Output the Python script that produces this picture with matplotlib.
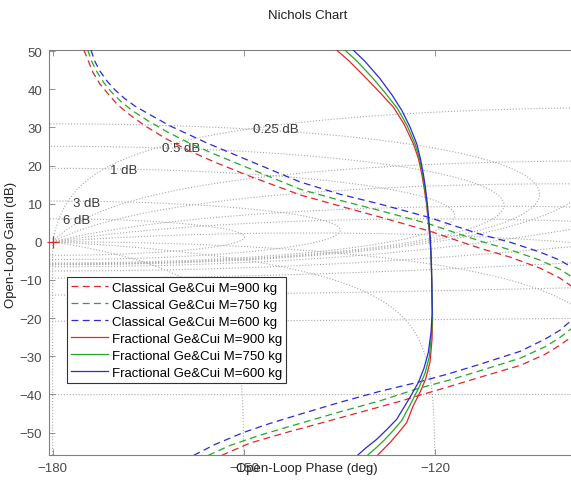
import numpy as np
import matplotlib.pyplot as plt

plt.rcParams['font.family'] = ['Liberation Sans', 'DejaVu Sans']

# ---------------- DATA (open-loop phase in deg, gain in dB) ----------------
# Classical Ge&Cui, upper branch
cl900_up_ph = [-175.1, -174.4, -173.7, -172.6, -171.3, -169.8, -167.9, -165.5, -162.4, -158.9, -154.6,
               -149.1, -141.2, -135.0, -128.7, -120.9, -113.0, -108.3, -103.6, -100.5, -98.7]
cl900_up_db = [50.3, 47.4, 44.5, 41.4, 38.8, 35.9, 33.3, 30.4, 27.2, 24.1, 20.9,
               17.2, 12.3, 9.4, 6.5, 2.8, -1.7, -4.0, -6.9, -9.5, -11.6]
cl750_up_ph = [-174.5, -173.9, -173.1, -172.0, -170.8, -169.3, -167.5, -165.1, -162.0, -158.7, -155.2,
               -149.1, -141.2, -135.0, -128.7, -121.0, -113.0, -108.3, -103.6, -100.5, -98.7]
cl750_up_db = [50.3, 47.4, 44.7, 41.8, 39.3, 36.8, 34.4, 31.8, 28.8, 26.0, 23.4,
               19.2, 13.8, 10.9, 8.2, 4.7, 0.2, -2.1, -4.8, -7.2, -9.1]
cl600_up_ph = [-174.0, -173.4, -172.6, -171.5, -170.2, -168.8, -167.1, -164.7, -161.6, -158.5, -155.8,
               -149.1, -141.2, -135.0, -128.7, -121.2, -113.0, -108.3, -103.6, -100.5, -98.7]
cl600_up_db = [50.3, 47.4, 44.8, 42.2, 39.8, 37.7, 35.6, 33.3, 30.4, 28.0, 25.9,
               21.2, 15.7, 12.5, 9.9, 6.5, 2.0, -0.1, -2.7, -4.8, -6.6]

# Classical Ge&Cui, lower branch (comes back in after wrapping)
cl900_lo_ph = [-153.5, -149.1, -143.8, -138.1, -131.8, -125.5, -122.4, -117.7, -113.0, -106.7, -102.8, -100.5, -98.7]
cl900_lo_db = [-56.0, -52.8, -50.2, -47.6, -44.7, -41.8, -40.2, -37.9, -35.5, -32.4, -29.5, -27.1, -25.0]
cl750_lo_ph = [-155.6, -152.2, -147.5, -141.2, -135.0, -128.7, -122.6, -117.7, -113.0, -106.7, -102.8, -100.5, -98.7]
cl750_lo_db = [-56.0, -53.4, -50.7, -47.6, -44.6, -41.7, -38.4, -36.2, -33.8, -30.5, -27.5, -25.1, -22.8]
cl600_lo_ph = [-157.9, -154.5, -150.1, -145.9, -141.2, -135.0, -128.7, -122.7, -117.7, -113.0, -106.7, -102.8, -100.5, -98.7]
cl600_lo_db = [-56.0, -53.1, -50.0, -47.6, -45.2, -42.1, -39.2, -36.8, -34.5, -32.1, -28.7, -25.5, -23.2, -20.6]

# Fractional Ge&Cui
fr900_ph = [-135.74, -133.54, -131.30, -129.0, -126.60, -124.92, -123.46, -122.65, -122.15, -121.79, -121.39,
            -121.11, -120.85, -120.66, -120.58, -120.45, -120.53, -120.85, -121.55, -122.41, -123.51, -124.50,
            -125.86, -127.12, -129.20]
fr900_db = [50.66, 47.43, 43.67, 39.69, 35.35, 30.89, 25.72, 21.71, 17.85, 14.36, 9.90,
            5.09, 0.71, -4.54, -9.79, -20.29, -25.54, -31.57, -36.04, -39.45, -43.12, -47.40,
            -50.21, -52.65, -56.17]
fr750_ph = [-134.44, -132.29, -129.98, -127.90, -125.94, -124.45, -123.20, -122.49, -122.02, -121.68, -121.33,
            -121.05, -120.82, -120.66, -120.58, -120.47, -120.61, -120.97, -121.63, -122.57, -123.75, -125.31,
            -126.80, -128.13, -129.47, -130.80]
fr750_db = [50.66, 47.38, 43.23, 39.11, 34.91, 30.50, 25.72, 21.71, 17.85, 14.36, 9.90,
            5.09, 0.71, -4.54, -9.79, -19.24, -24.49, -30.26, -34.46, -38.14, -42.07, -46.93,
            -49.82, -52.18, -54.28, -56.17]
fr600_ph = [-133.12, -131.03, -128.68, -126.80, -125.28, -123.98, -122.93, -122.34, -121.90, -121.58, -121.27,
            -121.0, -120.80, -120.66, -120.58, -120.50, -120.69, -121.11, -121.79, -122.68, -123.98, -126.07,
            -127.74, -129.20, -130.88, -132.34]
fr600_db = [50.66, 47.30, 42.78, 38.50, 34.49, 30.10, 25.72, 21.71, 17.85, 14.36, 9.90,
            5.09, 0.71, -4.54, -9.79, -18.45, -23.70, -28.95, -33.15, -36.90, -40.76, -46.54,
            -49.42, -51.78, -54.02, -56.17]

labels = ['Classical Ge&Cui M=900 kg', 'Classical Ge&Cui M=750 kg', 'Classical Ge&Cui M=600 kg',
          'Fractional Ge&Cui M=900 kg', 'Fractional Ge&Cui M=750 kg', 'Fractional Ge&Cui M=600 kg']

# Nichols grid: closed-loop gain (dB) and closed-loop phase (deg)
m_levels = [-40, -20, -12, -6, -3, -1, 0, 0.25, 0.5, 1, 3, 6]
n_levels = [-180, -150, -120, -90, -50, -30, -20, -10, -5, -1]
m_label_txt = ['6 dB', '3 dB', '1 dB', '0.5 dB', '0.25 dB']
m_label_ph = [-178.3, -176.8, -171.0, -162.9, -148.6]
m_label_db = [5.8, 10.3, 18.9, 24.6, 29.6]

red, green, blue = '#e02828', '#25a825', '#2a2ad8'
gridc = '#a8a8a8'
axc = '#808080'

fig = plt.figure(figsize=(5.71, 4.81), dpi=100)
ax = fig.add_axes([49.3 / 571, 25 / 481, 521.7 / 571, 405 / 481])

# ---------------- grid contours ----------------
ph = np.linspace(-181, -95, 1300)
gn = np.linspace(-62, 58, 1500)
P, G = np.meshgrid(ph, gn)
L = 10 ** (G / 20) * np.exp(1j * np.radians(P))
T = L / (1 + L)
mag = 20 * np.log10(np.abs(T))
phi = np.degrees(np.angle(T))
phi = np.where(phi > 0, phi - 360, phi)
phi = np.ma.masked_where((P < -180) & (G > 0), phi)

ax.contour(P, G, mag, levels=m_levels, colors=gridc, linestyles='dotted', linewidths=0.8, zorder=1)
ax.contour(P, G, phi, levels=n_levels, colors=gridc, linestyles='dotted', linewidths=0.8, zorder=1)
for t, x, y in zip(m_label_txt, m_label_ph, m_label_db):
    ax.text(x, y, t, fontsize=9.5, color='#3a3a3a', ha='left', va='center', zorder=2)

# ---------------- curves ----------------
dash = (0, (5.5, 3.5))
ax.plot(cl900_up_ph, cl900_up_db, color=red, ls=dash, lw=0.9, label=labels[0], zorder=3)
ax.plot(cl750_up_ph, cl750_up_db, color=green, ls=dash, lw=0.9, label=labels[1], zorder=3)
ax.plot(cl600_up_ph, cl600_up_db, color=blue, ls=dash, lw=0.9, label=labels[2], zorder=3)
ax.plot(cl900_lo_ph, cl900_lo_db, color=red, ls=dash, lw=0.9, zorder=3)
ax.plot(cl750_lo_ph, cl750_lo_db, color=green, ls=dash, lw=0.9, zorder=3)
ax.plot(cl600_lo_ph, cl600_lo_db, color=blue, ls=dash, lw=0.9, zorder=3)
ax.plot(fr900_ph, fr900_db, color=red, lw=0.9, label=labels[3], zorder=3)
ax.plot(fr750_ph, fr750_db, color=green, lw=0.9, label=labels[4], zorder=3)
ax.plot(fr600_ph, fr600_db, color=blue, lw=0.9, label=labels[5], zorder=3)

# critical point
ax.plot([-180], [0], '+', color=red, ms=8, mew=0.9, zorder=4, clip_on=False)

# ---------------- axes ----------------
ax.set_xlim(-180.52, -98.75)
ax.set_ylim(-55.9, 50.3)
ax.set_xticks([-180, -150, -120])
ax.set_yticks(np.arange(-50, 51, 10))
ax.tick_params(direction='in', top=True, right=False, length=4, width=0.6,
               color=axc, labelcolor='#4a4a4a', labelsize=9.5, pad=5)
for s in ['left', 'top', 'bottom']:
    ax.spines[s].set_color(axc)
    ax.spines[s].set_linewidth(0.8)
ax.spines['right'].set_visible(False)

ax.set_xlabel('Open-Loop Phase (deg)', fontsize=9.5, color='#222222')
ax.xaxis.set_label_coords(0.494, -0.017)
ax.set_ylabel('Open-Loop Gain (dB)', fontsize=9.5, color='#222222')
ax.yaxis.set_label_coords(-0.062, 0.52)
fig.text(308 / 571, 1 - 16 / 481, 'Nichols Chart', fontsize=9.5, color='#222222',
         ha='center', va='center')

leg = ax.legend(loc='upper left', bbox_to_anchor=(0.0334, 0.4395), borderaxespad=0,
                fontsize=9.5, handlelength=2.8, handletextpad=0.25, labelspacing=0.36,
                borderpad=0.35, fancybox=False, framealpha=1, edgecolor='#333333')
leg.get_frame().set_linewidth(0.8)

fig.savefig('out.png', dpi=100)
